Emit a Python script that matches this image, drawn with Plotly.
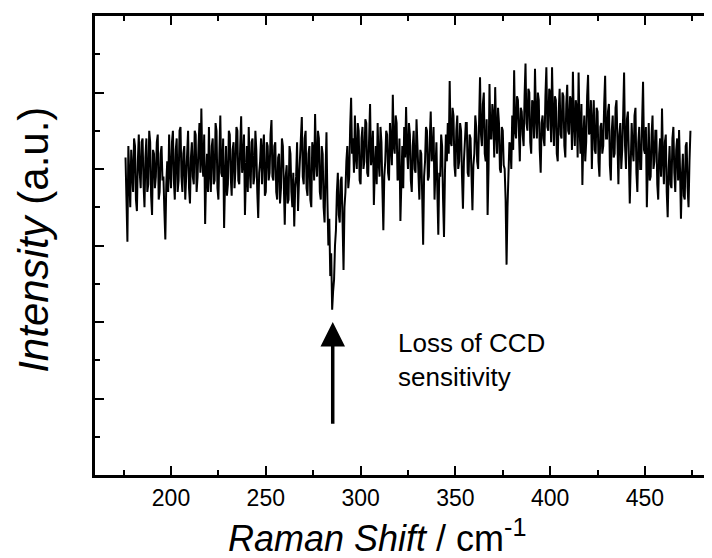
import plotly.graph_objects as go

# Raman spectrum, sampled every 0.5 cm^-1 starting at 176 cm^-1
shift_start = 176
shift_step = 0.5
intensity = [
    4.15, 3.60, 3.05, 4.30, 3.90, 3.50, 4.25, 3.85, 3.70, 4.40,   # 176-180.5
    4.30, 3.60, 3.45, 4.10, 4.45, 3.95, 3.75, 4.35, 4.40, 3.80,   # 181-185.5
    3.50, 4.15, 4.40, 3.70, 3.80, 4.50, 4.35, 3.65, 3.40, 4.25,   # 186-190.5
    4.20, 3.75, 3.90, 4.35, 4.45, 3.60, 3.70, 4.20, 4.30, 3.85,   # 191-195.5
    3.90, 3.45, 3.08, 3.80, 4.10, 3.70, 4.45, 3.95, 3.75, 4.35,   # 196-200.5
    4.50, 3.85, 3.60, 4.25, 4.40, 3.70, 3.85, 4.50, 4.55, 3.90,   # 201-205.5
    3.70, 4.20, 4.30, 3.60, 3.95, 4.40, 4.50, 3.75, 3.55, 4.15,   # 206-210.5
    4.35, 3.90, 3.80, 4.50, 4.45, 3.70, 3.90, 4.30, 4.60, 3.95,   # 211-215.5
    4.79, 4.10, 3.90, 4.45, 3.28, 3.90, 4.20, 3.70, 4.55, 3.95,   # 216-220.5
    3.70, 4.30, 4.40, 3.80, 3.85, 4.60, 4.50, 3.75, 3.60, 4.20,   # 221-225.5
    4.70, 3.95, 3.90, 4.40, 3.23, 3.85, 4.30, 3.65, 3.80, 4.50,   # 226-230.5
    4.45, 3.90, 3.65, 4.25, 4.35, 3.75, 4.00, 4.55, 4.50, 3.85,   # 231-235.5
    3.80, 4.30, 4.69, 3.95, 4.10, 4.45, 3.40, 3.90, 4.30, 3.70,   # 236-240.5
    4.55, 4.00, 3.75, 4.35, 4.40, 3.80, 3.90, 4.50, 4.25, 3.70,   # 241-245.5
    3.36, 3.95, 4.10, 4.40, 3.80, 4.25, 4.45, 3.65, 3.70, 4.35,   # 246-250.5
    4.30, 3.85, 3.95, 4.45, 4.64, 3.90, 3.85, 4.30, 4.35, 3.70,   # 251-255.5
    3.60, 4.15, 4.20, 3.55, 3.75, 4.40, 4.30, 3.80, 3.27, 3.90,   # 256-260.5
    4.05, 3.55, 3.60, 4.30, 4.20, 3.70, 3.50, 3.95, 3.25, 3.75,   # 261-265.5
    3.90, 4.35, 3.45, 3.85, 4.10, 4.50, 4.68, 3.90, 3.80, 4.40,   # 266-270.5
    4.50, 3.75, 3.65, 4.20, 4.30, 3.60, 3.50, 4.35, 4.25, 3.85,   # 271-275.5
    4.72, 4.10, 3.90, 4.50, 4.40, 3.70, 3.60, 4.30, 4.20, 3.50,   # 276-280.5
    3.30, 3.95, 4.48, 3.60, 3.00, 3.35, 2.60, 2.90, 2.16, 2.40,   # 281-285.5
    2.55, 3.00, 3.20, 3.70, 3.95, 3.40, 3.30, 3.85, 3.90, 3.30,   # 286-290.5
    2.68, 3.50, 3.70, 4.10, 4.30, 3.75, 3.90, 4.55, 4.93, 4.20,   # 291-295.5
    4.40, 3.95, 4.70, 4.15, 4.00, 4.60, 4.50, 3.85, 3.80, 4.40,   # 296-300.5
    4.55, 4.00, 4.10, 4.65, 4.60, 3.95, 3.90, 4.40, 4.85, 4.05,   # 301-305.5
    4.20, 4.50, 3.53, 4.00, 4.30, 3.80, 4.60, 4.10, 3.90, 4.55,   # 306-310.5
    4.35, 3.75, 3.20, 3.90, 4.10, 4.50, 4.45, 3.95, 3.85, 4.60,   # 311-315.5
    4.40, 4.05, 4.97, 4.30, 4.20, 4.70, 4.60, 3.85, 3.90, 4.40,   # 316-320.5
    3.32, 4.00, 4.30, 3.75, 4.55, 4.15, 4.81, 4.25, 4.00, 4.60,   # 321-325.5
    4.45, 3.85, 3.70, 4.30, 4.50, 4.00, 3.95, 4.65, 4.30, 3.80,   # 326-330.5
    3.60, 4.25, 4.20, 3.65, 3.01, 3.90, 4.10, 4.55, 4.50, 3.85,   # 331-335.5
    3.90, 4.40, 4.75, 4.10, 4.20, 4.55, 3.60, 4.00, 4.35, 3.70,   # 336-340.5
    3.14, 3.95, 3.90, 4.45, 4.30, 3.60, 3.11, 3.95, 4.45, 4.10,   # 341-345.5
    4.60, 4.20, 5.15, 4.35, 4.30, 4.80, 4.70, 4.05, 3.90, 4.50,   # 346-350.5
    4.70, 4.00, 4.10, 4.60, 4.50, 3.90, 3.48, 4.10, 4.30, 4.60,   # 351-355.5
    4.60, 3.95, 3.90, 4.45, 4.40, 3.80, 3.46, 4.05, 4.20, 4.70,   # 356-360.5
    4.55, 4.10, 4.00, 4.60, 5.20, 4.45, 4.30, 4.85, 5.00, 4.20,   # 361-365.5
    4.10, 4.65, 3.40, 4.00, 5.11, 4.40, 4.40, 4.85, 4.70, 4.15,   # 366-370.5
    5.07, 4.50, 4.20, 4.80, 4.60, 4.00, 3.95, 4.55, 4.50, 4.05,   # 371-375.5
    4.00, 3.60, 2.75, 3.50, 3.90, 4.35, 4.30, 4.00, 4.70, 4.25,   # 376-380.5
    5.29, 4.50, 4.40, 4.95, 4.90, 4.30, 4.10, 4.80, 4.75, 4.45,   # 381-385.5
    4.30, 4.95, 5.38, 4.60, 4.50, 5.05, 5.00, 4.35, 4.20, 4.90,   # 386-390.5
    4.85, 4.40, 5.31, 4.70, 4.40, 5.00, 4.90, 4.25, 3.95, 4.60,   # 391-395.5
    4.70, 4.40, 4.30, 4.95, 5.33, 4.55, 4.50, 5.05, 5.00, 4.35,   # 396-400.5
    5.33, 4.70, 4.30, 4.95, 4.90, 4.20, 4.10, 4.75, 5.05, 4.45,   # 401-405.5
    4.40, 5.00, 4.95, 4.30, 4.15, 4.85, 5.10, 4.50, 4.45, 4.95,   # 406-410.5
    4.90, 4.25, 5.27, 4.60, 4.30, 4.90, 4.80, 4.15, 5.26, 4.55,   # 411-415.5
    4.20, 4.85, 3.79, 4.40, 4.70, 4.10, 4.35, 4.95, 5.23, 4.45,   # 416-420.5
    4.50, 4.90, 4.00, 4.60, 4.90, 4.25, 4.20, 4.80, 4.75, 4.10,   # 421-425.5
    3.90, 4.55, 4.60, 4.20, 4.30, 4.85, 5.22, 4.40, 4.40, 4.75,   # 426-430.5
    4.85, 4.05, 3.85, 4.50, 4.70, 4.15, 4.20, 4.80, 4.90, 4.35,   # 431-435.5
    3.80, 4.45, 4.60, 4.00, 4.25, 4.70, 5.26, 4.30, 4.00, 4.65,   # 436-440.5
    4.75, 4.20, 3.55, 4.05, 4.60, 4.25, 4.10, 4.70, 4.80, 3.95,   # 441-445.5
    3.70, 4.35, 4.55, 4.00, 4.00, 4.60, 5.14, 4.25, 4.20, 4.55,   # 446-450.5
    3.50, 4.05, 4.60, 3.85, 3.90, 4.45, 4.70, 4.00, 4.10, 4.50,   # 451-455.5
    4.50, 3.80, 3.60, 4.20, 4.40, 3.90, 4.79, 4.15, 3.80, 4.35,   # 456-460.5
    4.45, 3.70, 3.37, 4.00, 4.30, 3.80, 3.75, 4.40, 4.55, 3.95,   # 461-465.5
    3.70, 4.25, 4.40, 3.85, 4.51, 4.00, 3.35, 3.90, 4.20, 3.65,   # 466-470.5
    3.60, 4.30, 4.35, 3.75, 3.50, 4.10, 4.50,                     # 471-474
]

x_range = [159.9, 485.9]
y_range = [0, 6]
x_tick_values = [200, 250, 300, 350, 400, 450]
x_tick_labels = ["200", "250", "300", "350", "400", "450"]

x_title = "<i>Raman Shift</i> / cm<sup>-1</sup>"
y_title = "<i>Intensity</i> (a.u.)"

arrow_x = 285.3
arrow_tip_y = 2.0
arrow_tail_y = 0.65
note_x = 318.5
note_y = 1.95
note_text = "Loss of CCD<br>sensitivity"

FONT = "Liberation Sans, Arial, sans-serif"

fig = go.Figure()
fig.add_trace(go.Scatter(
    x0=shift_start, dx=shift_step, y=intensity,
    mode="lines", line=dict(color="black", width=2.0),
    showlegend=False, hoverinfo="skip",
))

fig.add_annotation(
    x=arrow_x, y=arrow_tip_y, ax=arrow_x, ay=arrow_tail_y,
    xref="x", yref="y", axref="x", ayref="y",
    text="", showarrow=True, arrowhead=2, arrowsize=1.4,
    arrowwidth=3.5, arrowcolor="black", standoff=0,
)
fig.add_annotation(
    x=note_x, y=note_y, xref="x", yref="y",
    text=note_text, showarrow=False, xanchor="left", yanchor="top",
    align="left", font=dict(family=FONT, size=26, color="black"),
)
# axis titles
fig.add_annotation(
    x=0.4575, y=-0.133, xref="paper", yref="paper",
    text=x_title, showarrow=False, xanchor="center", yanchor="middle",
    font=dict(family=FONT, size=36, color="black"),
)
fig.add_annotation(
    x=-0.099, y=0.512, xref="paper", yref="paper",
    text=y_title, showarrow=False, xanchor="center", yanchor="middle",
    textangle=-90, font=dict(family=FONT, size=42, color="black"),
)

axis_common = dict(
    showline=True, linecolor="black", linewidth=3, mirror="allticks",
    ticks="inside", ticklen=9, tickwidth=2, tickcolor="black",
    showgrid=False, zeroline=False,
)

fig.update_xaxes(
    range=x_range, tickvals=x_tick_values, ticktext=x_tick_labels,
    tickfont=dict(family=FONT, size=23, color="black"),
    minor=dict(dtick=25, tick0=0, ticks="inside", ticklen=5, tickwidth=2, tickcolor="black"),
    **axis_common,
)
fig.update_yaxes(
    range=y_range, dtick=1, tick0=0, showticklabels=False,
    minor=dict(dtick=0.5, tick0=0, ticks="inside", ticklen=5, tickwidth=2, tickcolor="black"),
    **axis_common,
)

# the page body adds a small offset; the figure is sized so the plot frame lands where the reference has it
fig.update_layout(
    width=706, height=550,
    margin=dict(l=87, r=1, t=8, b=83, autoexpand=False),
    paper_bgcolor="white", plot_bgcolor="white",
)

fig.write_html("out.html")
